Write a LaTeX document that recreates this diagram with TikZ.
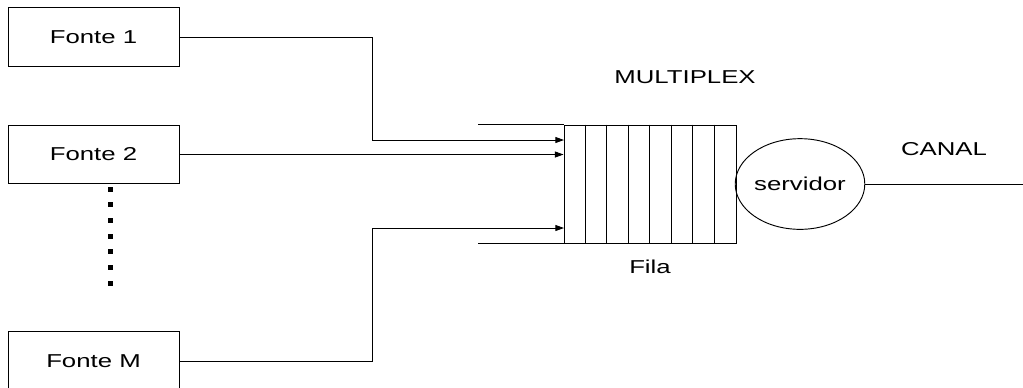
\documentclass[tikz,border=0pt]{standalone}
\usepackage{fontspec}
\setmainfont{Liberation Sans}[FakeStretch=1.38]
\usetikzlibrary{arrows.meta,shapes.geometric}
\begin{document}
\begin{tikzpicture}[x=0.75pt,y=-0.75pt, line width=0.7pt,
  every node/.style={font=\fontsize{14}{16}\selectfont},
  src/.style={draw,minimum width=128.25pt,minimum height=44pt,inner sep=0pt},
  arr/.style={-{Triangle[length=6.5pt,width=4.5pt]}},
  lbl/.style={inner sep=0pt}]
\useasboundingbox (0,0) rectangle (1023,387);
\node[src] (f1) at (93.5,37) {Fonte 1};
\node[src] (f2) at (93.5,154.5) {Fonte 2};
\node[src] (fM) at (93.5,361) {Fonte M};
% dots between the sources
\foreach \k in {0,...,6}
  \fill (107.5,186.5+15.7*\k) rectangle ++(5,5);
% queue
\node[draw,minimum width=129pt,minimum height=88.5pt,inner sep=0pt] (fila) at (650,184) {};
\foreach \k in {1,...,7}
  \draw ([xshift=\k*16.125pt]fila.north west) -- ([xshift=\k*16.125pt]fila.south west);
\draw (fila.north west) -- ++(-86,0);
\draw (fila.south west) -- ++(-86,0);
\coordinate (in1) at (564,140);
\coordinate (inM) at (564,228);
\draw[arr] (f1.east) -- ++(193,0) |- (in1);
\draw[arr] (f2.east) -- (f2.east -| fila.west);
\draw[arr] (fM.east) -- ++(193,0) |- (inM);
% server
\node[draw,ellipse,minimum width=96pt,minimum height=68pt,inner sep=0pt] (srv) at (800,184) {servidor};
\coordinate (out) at (1023,184);
\draw (srv.east) -- (out);
\node[lbl] (mux) at (685,77) {MULTIPLEX};
\node[lbl] (fl) at (650,267) {Fila};
\node[lbl] (canal) at (944,149) {CANAL};
\end{tikzpicture}
\end{document}
